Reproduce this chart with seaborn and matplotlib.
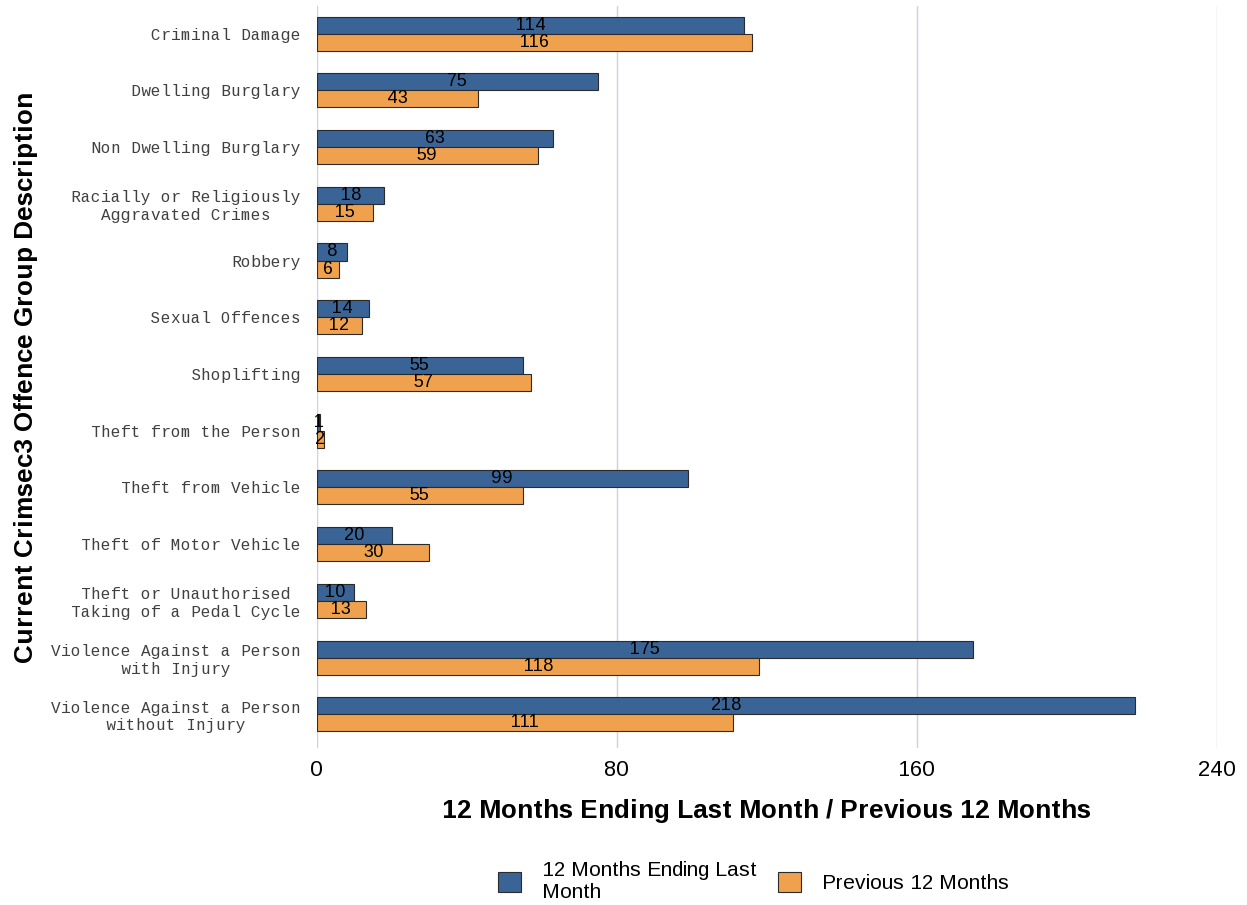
import numpy as np
import pandas as pd
import matplotlib
matplotlib.use("Agg")
import matplotlib.pyplot as plt
import seaborn as sns

# -------------------- DATA --------------------
CATEGORIES = [
    "Criminal Damage",
    "Dwelling Burglary",
    "Non Dwelling Burglary",
    "Racially or Religiously\nAggravated Crimes",
    "Robbery",
    "Sexual Offences",
    "Shoplifting",
    "Theft from the Person",
    "Theft from Vehicle",
    "Theft of Motor Vehicle",
    "Theft or Unauthorised\nTaking of a Pedal Cycle",
    "Violence Against a Person\nwith Injury",
    "Violence Against a Person\nwithout Injury",
]
LAST_12 = [114, 75, 63, 18, 8, 14, 55, 1, 99, 20, 10, 175, 218]
PREV_12 = [116, 43, 59, 15, 6, 12, 57, 2, 55, 30, 13, 118, 111]
SERIES = ["12 Months Ending Last Month", "Previous 12 Months"]
LEGEND_LABELS = ["12 Months Ending Last\nMonth", "Previous 12 Months"]
X_TICKS = [0, 80, 160, 240]

COLORS = ["#3A6496", "#F0A14E"]

# -------------------- TABLE --------------------
df = pd.DataFrame({
    "category": CATEGORIES * 2,
    "value": LAST_12 + PREV_12,
    "series": [SERIES[0]] * len(CATEGORIES) + [SERIES[1]] * len(CATEGORIES),
})

# -------------------- PLOT --------------------
sns.set_style("white")
plt.rcParams["font.family"] = ["Liberation Sans", "DejaVu Sans"]
plt.rcParams["text.color"] = "black"
plt.rcParams["axes.labelcolor"] = "black"
plt.rcParams["xtick.color"] = "black"
plt.rcParams["text.hinting_factor"] = 1

fig = plt.figure(figsize=(12.47, 9.05), dpi=100)
ax = fig.add_axes([0.254, 0.173, 0.722, 0.820])

sns.barplot(
    data=df, y="category", x="value", hue="series",
    order=CATEGORIES, hue_order=SERIES, palette=COLORS,
    orient="h", width=0.6, edgecolor="#2b2b2b", linewidth=0.8,
    saturation=1, ax=ax, legend=True,
)

for cont in ax.containers:
    ax.bar_label(cont, label_type="center", fontsize=13, color="black",
                 padding=0)

ax.set_xlim(0, 240)
ax.set_ylim(len(CATEGORIES) - 0.4, -0.48)
ax.set_xticks(X_TICKS)
ax.set_xticklabels([str(t) for t in X_TICKS], fontsize=16)
ax.tick_params(axis="x", length=0, pad=8)
ax.tick_params(axis="y", length=0, pad=11)
for lbl in ax.get_yticklabels():
    lbl.set_family("Liberation Mono")
    lbl.set_fontsize(11.5)
    lbl.set_color("#404040")
    lbl.set_multialignment("center")

ax.grid(axis="x", color="#D0D0E4", linewidth=1)
ax.set_axisbelow(True)
for sp in ax.spines.values():
    sp.set_visible(False)

ax.set_xlabel("12 Months Ending Last Month / Previous 12 Months",
              fontsize=19, fontweight="bold", labelpad=13)
ax.set_ylabel("Current Crimsec3 Offence Group Description",
              fontsize=19, fontweight="bold")
ax.yaxis.set_label_coords(-0.31, 0.5)

handles, labels = ax.get_legend_handles_labels()
ax.legend(handles, LEGEND_LABELS,
          loc="center", bbox_to_anchor=(0.485, -0.179), ncol=2, frameon=False,
          fontsize=15, handlelength=1.1, handleheight=1.1, columnspacing=1.0,
          handletextpad=1.0)

fig.savefig("out.png", dpi=100)
